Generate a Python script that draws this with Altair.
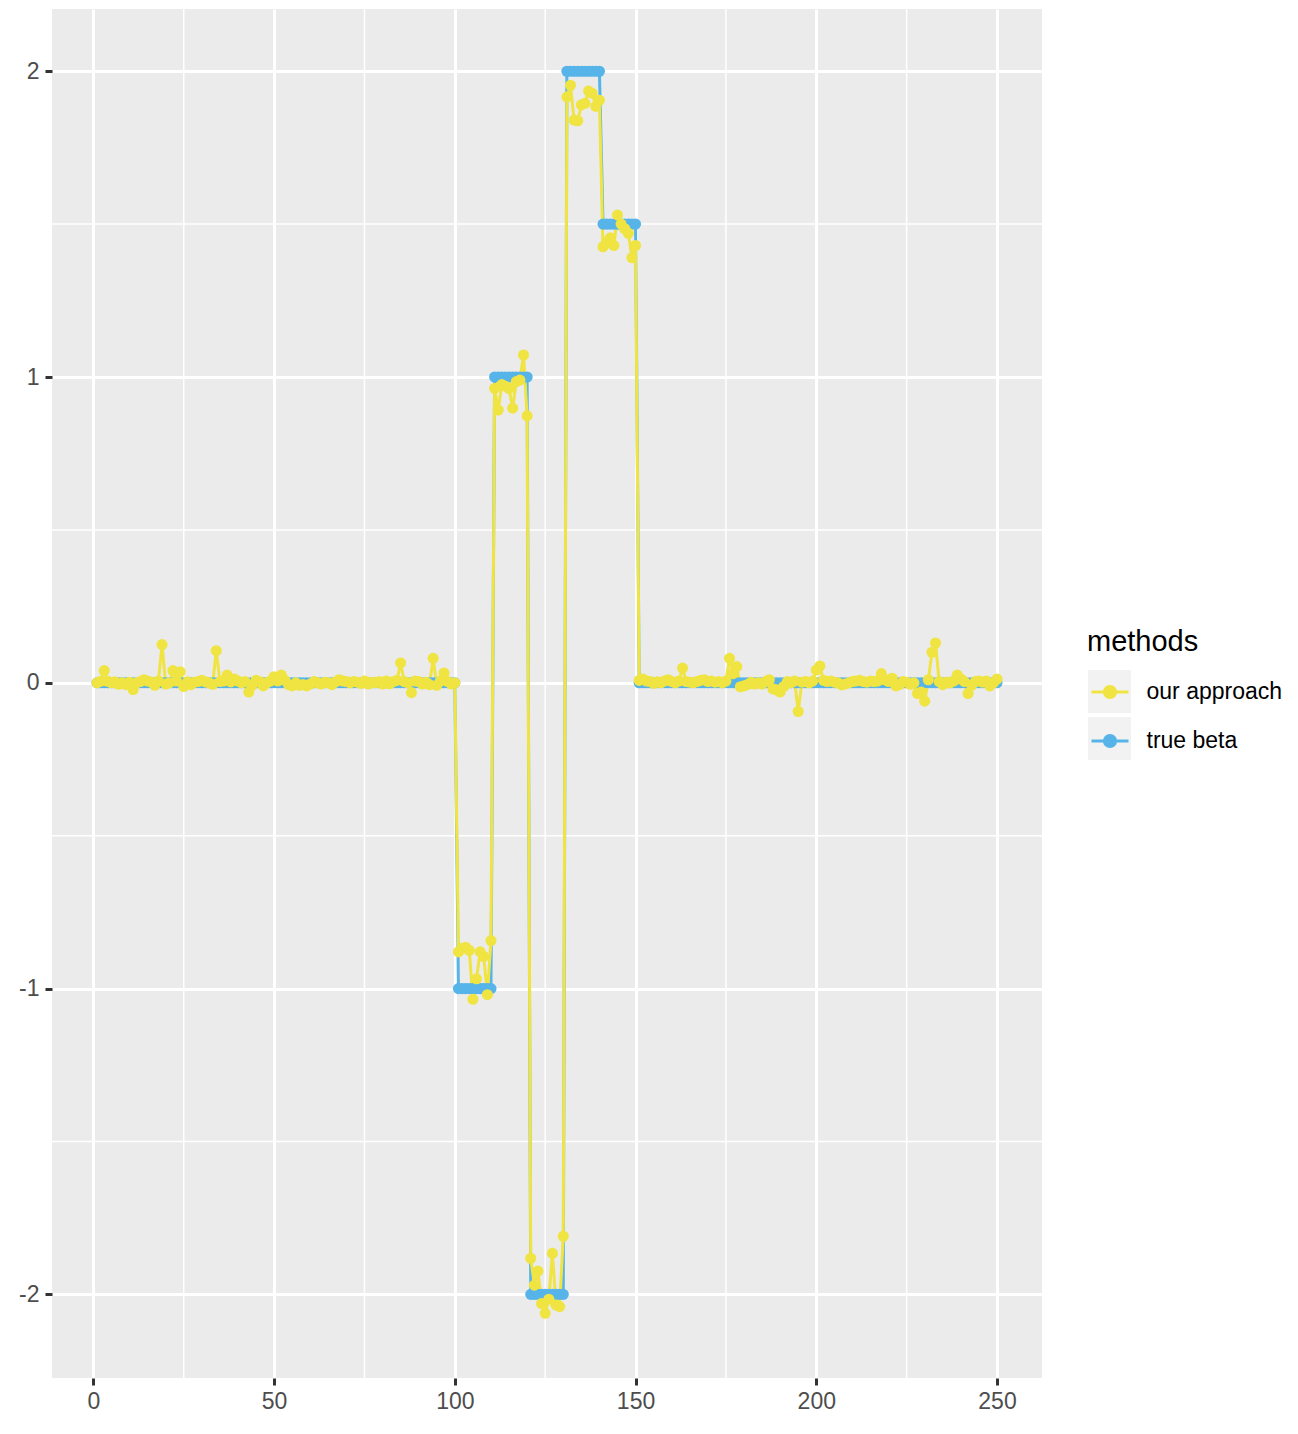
import altair as alt
import pandas as pd

# ---------------- data ----------------
index = list(range(1, 251))

true_beta = ([0.0] * 100 + [-1.0] * 10 + [1.0] * 10 + [-2.0] * 10 +
             [2.0] * 10 + [1.5] * 10 + [0.0] * 100)

our_approach = [
    # 1-10
    0.0, 0.005, 0.04, 0.005, 0.0, 0.003, -0.005, 0.0, -0.006, 0.002,
    # 11-20
    -0.022, 0.0, 0.004, 0.01, 0.006, 0.002, -0.008, 0.006, 0.125, -0.004,
    # 21-30
    0.0, 0.04, 0.006, 0.036, -0.012, 0.003, -0.006, 0.002, 0.004, 0.008,
    # 31-40
    0.003, 0.0, -0.005, 0.105, 0.004, 0.006, 0.025, 0.003, 0.012, 0.006,
    # 41-50
    0.0, 0.004, -0.03, -0.008, 0.008, 0.004, -0.01, 0.0, 0.006, 0.02,
    # 51-60
    0.006, 0.025, 0.008, -0.006, -0.01, 0.0, -0.008, -0.006, -0.01, -0.004,
    # 61-70
    0.004, 0.0, -0.004, 0.002, 0.0, -0.006, 0.003, 0.01, 0.006, 0.004,
    # 71-80
    0.0, 0.004, 0.002, -0.002, 0.006, -0.004, 0.002, 0.0, 0.004, -0.004,
    # 81-90
    0.006, -0.003, 0.004, 0.008, 0.065, 0.004, 0.0, -0.032, 0.006, 0.004,
    # 91-100
    -0.004, 0.002, -0.006, 0.08, -0.008, 0.006, 0.032, 0.004, -0.004, 0.0,
    # 101-110
    -0.88, -0.868, -0.865, -0.875, -1.035, -0.968, -0.88, -0.895, -1.02, -0.843,
    # 111-120
    0.963, 0.892, 0.975, 0.97, 0.962, 0.898, 0.985, 0.99, 1.072, 0.873,
    # 121-130
    -1.882, -1.97, -1.924, -2.03, -2.062, -2.016, -1.866, -2.035, -2.04, -1.81,
    # 131-140
    1.916, 1.954, 1.84, 1.838, 1.89, 1.895, 1.935, 1.928, 1.885, 1.905,
    # 141-150
    1.426, 1.44, 1.455, 1.43, 1.53, 1.5, 1.485, 1.47, 1.39, 1.43,
    # 151-160
    0.008, 0.012, 0.006, 0.004, -0.002, 0.003, 0.0, 0.006, 0.01, 0.004,
    # 161-170
    0.0, 0.006, 0.048, 0.004, 0.002, 0.0, 0.004, 0.008, 0.01, 0.004,
    # 171-180
    0.006, 0.002, 0.004, 0.0, 0.006, 0.08, 0.03, 0.053, -0.013, -0.01,
    # 181-190
    -0.006, 0.002, -0.004, 0.0, -0.004, 0.004, 0.01, -0.02, -0.023, -0.03,
    # 191-200
    -0.012, 0.004, 0.0, 0.006, -0.094, 0.002, 0.004, 0.0, 0.006, 0.042,
    # 201-210
    0.055, 0.008, 0.004, 0.006, 0.002, 0.0, -0.007, -0.004, 0.0, 0.004,
    # 211-220
    0.006, 0.008, 0.004, 0.002, 0.006, 0.004, 0.006, 0.03, 0.01, 0.004,
    # 221-230
    0.015, -0.01, -0.006, 0.004, 0.002, -0.005, 0.0, -0.035, -0.03, -0.06,
    # 231-240
    0.01, 0.1, 0.13, 0.004, -0.006, 0.002, 0.0, 0.006, 0.025, 0.012,
    # 241-250
    0.004, -0.035, -0.008, 0.004, 0.006, 0.002, 0.006, -0.01, 0.0, 0.012,
]

methods = ["our approach", "true beta"]
colors = ["#F0E442", "#56B4E9"]

x_major = [0, 50, 100, 150, 200, 250]
x_minor = [25, 75, 125, 175, 225]
y_major = [-2, -1, 0, 1, 2]
y_minor = [-1.5, -0.5, 0.5, 1.5]

df = pd.DataFrame({
    "index": index * 2,
    "value": true_beta + our_approach,
    "methods": ["true beta"] * 250 + ["our approach"] * 250,
    "bgkey": ["k1"] * 500,
})

FONT = "Liberation Sans"

xscale = alt.Scale(domain=[-11.45, 262.45], nice=False, zero=False)
yscale = alt.Scale(domain=[-2.2735, 2.2035], nice=False, zero=False)

axis_common = dict(
    title=None, grid=True, gridColor="white", gridWidth=3, domain=False,
    tickColor="#333333", tickWidth=3, tickSize=7,
    labelColor="#4D4D4D", labelFontSize=23, labelFont=FONT,
)
xaxis = alt.Axis(values=x_major, labelPadding=5, **axis_common)
yaxis = alt.Axis(values=y_major, labelPadding=6,
                 labelExpr="datum.value < 0 ? '-' + abs(datum.value) : '' + datum.value",
                 **axis_common)

LX, LY = 1035, 619
legend_common = dict(
    orient="none", legendX=LX, legendY=LY, title="methods",
    titleFontSize=29, titleFont=FONT, titleFontWeight="normal",
    titleColor="black", titlePadding=12, labelFontSize=23, labelFont=FONT,
    labelColor="black", labelOffset=13.5, labelLimit=400, rowPadding=-9,
    symbolSize=1849, padding=0,
)
sym_path = ("M-0.907,-0.907M0.907,0.907M-0.86,0L0.86,0"
            "M0.26,0A0.26,0.26,0,1,1,-0.26,0A0.26,0.26,0,1,1,0.26,0Z")
legend_series = alt.Legend(titleOpacity=0, symbolType=sym_path,
                           symbolStrokeWidth=3, zindex=2, **legend_common)
legend_bg = alt.Legend(labelExpr="''", symbolType="square", zindex=1,
                       **legend_common)

color_enc = alt.Color("methods:N", scale=alt.Scale(domain=methods, range=colors),
                      legend=legend_series)

base = alt.Chart(df)

minor_x = alt.Chart(pd.DataFrame({"v": x_minor})).mark_rule(
    color="white", strokeWidth=1.5).encode(x=alt.X("v:Q", scale=xscale, axis=xaxis))
minor_y = alt.Chart(pd.DataFrame({"v": y_minor})).mark_rule(
    color="white", strokeWidth=1.5).encode(y=alt.Y("v:Q", scale=yscale, axis=yaxis))

enc = dict(
    x=alt.X("index:Q", scale=xscale, axis=xaxis),
    y=alt.Y("value:Q", scale=yscale, axis=yaxis),
    color=color_enc,
)

line_true = base.transform_filter(alt.datum.methods == "true beta").mark_line(
    strokeWidth=3).encode(**enc)
line_ours = base.transform_filter(alt.datum.methods == "our approach").mark_line(
    strokeWidth=3).encode(**enc)
pts_true = base.transform_filter(alt.datum.methods == "true beta").mark_point(
    filled=True, size=123, opacity=1).encode(**enc)
pts_ours = base.transform_filter(alt.datum.methods == "our approach").mark_point(
    filled=True, size=123, opacity=1).encode(**enc)

bg_keys = base.transform_filter("false").mark_point(
    filled=True, color="#F2F2F2", opacity=1).encode(
    shape=alt.Shape("bgkey:N", scale=alt.Scale(domain=["k1", "k2"],
                                                range=["square", "square"]),
                    legend=legend_bg))

chart = alt.layer(
    minor_x, minor_y, line_true, line_ours, pts_true, pts_ours, bg_keys
).properties(
    width=990, height=1369,
    padding={"left": 44, "top": 1, "right": 248, "bottom": 36},
    autosize=alt.AutoSizeParams(type="none"),
    view=alt.ViewBackground(fill="#EBEBEB", stroke=None),
).configure_view(fill="#EBEBEB", stroke=None)

chart.save("out.html", embed_options={"renderer": "svg", "actions": False})
